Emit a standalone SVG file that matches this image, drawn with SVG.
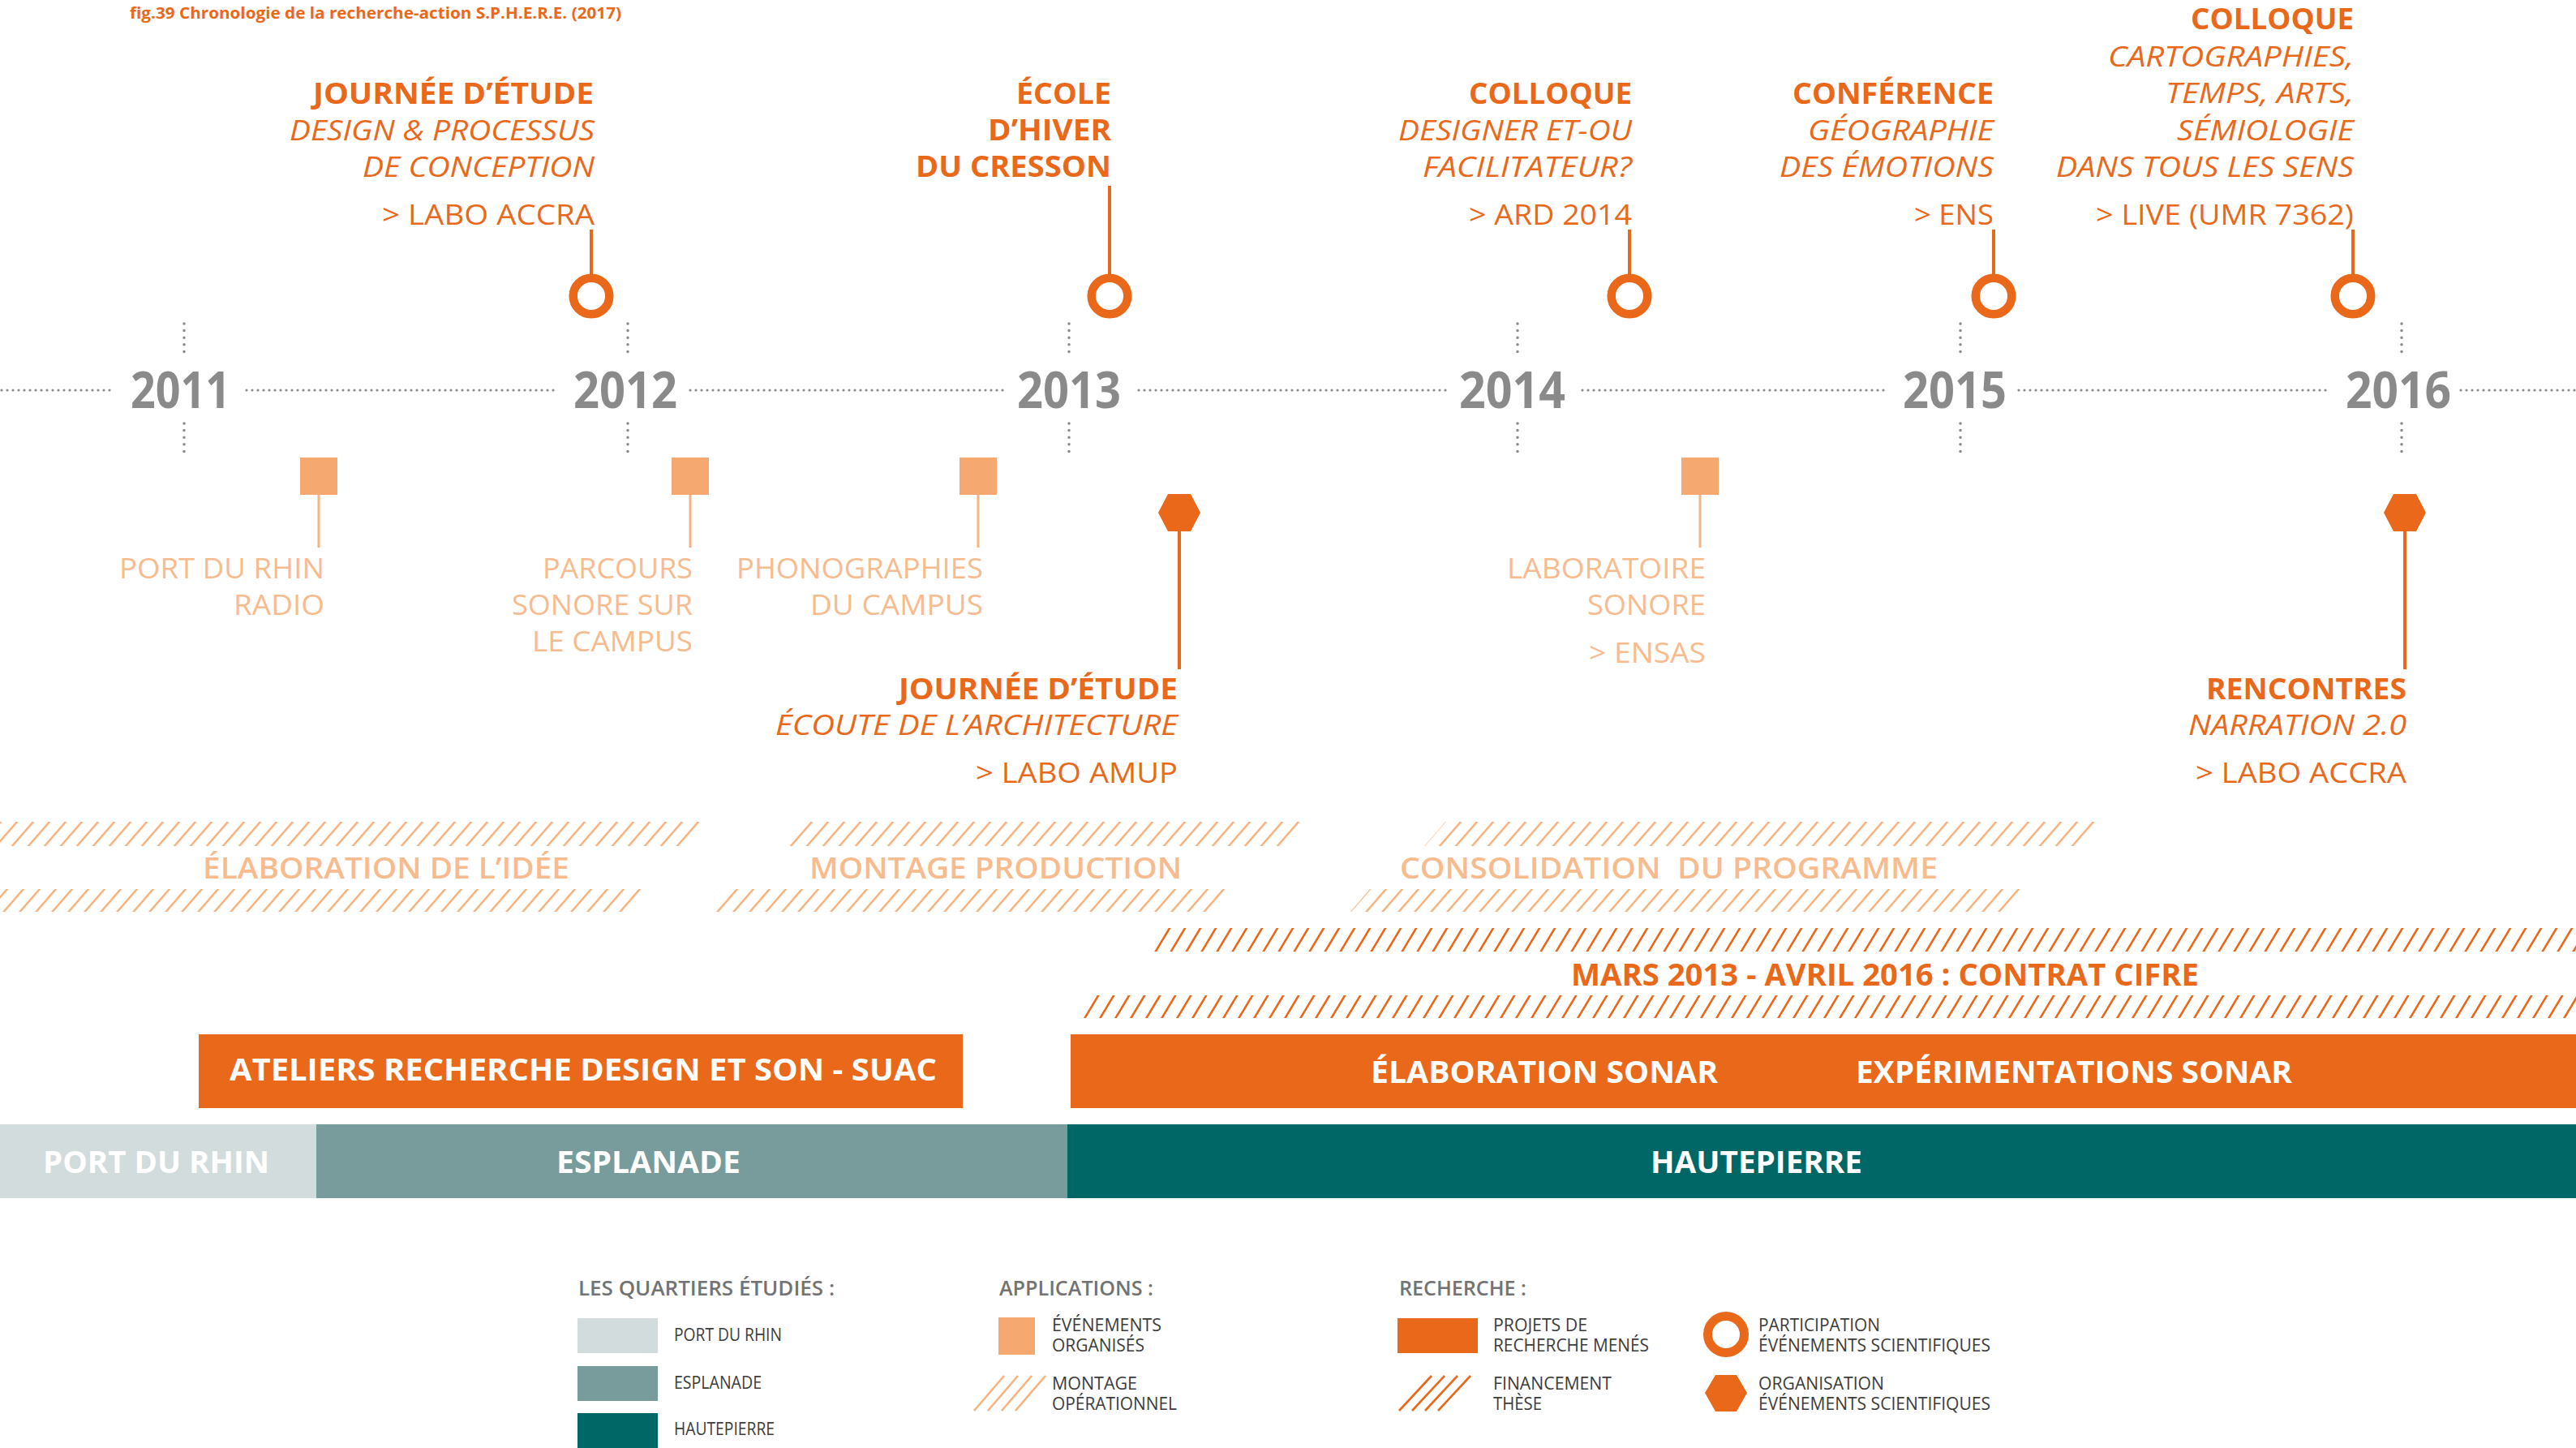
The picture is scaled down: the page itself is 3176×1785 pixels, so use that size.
<svg xmlns="http://www.w3.org/2000/svg" width="3176" height="1785" viewBox="0 0 3176 1785">
<style>
text{font-family:"Open Sans","Noto Sans","Liberation Sans",sans-serif;}
.t{font-size:35px;fill:#E9681A;}
.b{font-weight:700;}
.i{font-style:italic;}
.app{font-size:35px;fill:#F8BB8E;}
.band{font-size:36px;font-weight:600;fill:#F8BB8E;}
.yr{font-size:63px;font-weight:700;fill:#8A8A8A;}
.bar{font-size:38px;font-weight:700;fill:#FFFFFF;}
.lh{font-size:26px;font-weight:600;fill:#737373;}
.ll{font-size:21px;fill:#3C3C3C;}
.ring{fill:none;stroke:#E9681A;stroke-width:10.5;}
.hex{fill:#E9681A;}
.sq{fill:#F5A970;}
.cn{stroke:#E9681A;stroke-width:4;fill:none;}
.cl{stroke:#F6B485;stroke-width:3;fill:none;}
.dh{stroke:#8A8A8A;stroke-width:3.2;stroke-linecap:round;stroke-dasharray:0 7;fill:none;}
.dv{stroke:#8A8A8A;stroke-width:3.5;stroke-linecap:round;stroke-dasharray:0 8.6;fill:none;}
</style>
<defs>
<pattern id="hatchL" patternUnits="userSpaceOnUse" width="20" height="40" patternTransform="skewX(-41)">
<rect x="0" y="0" width="3.3" height="40" fill="#F7B27E"/>
</pattern>
<pattern id="hatchD" patternUnits="userSpaceOnUse" width="19" height="40" patternTransform="skewX(-31)">
<rect x="0" y="0" width="3" height="40" fill="#E9681A"/>
</pattern>
</defs>
<rect width="3176" height="1785" fill="#FFFFFF"/>

<text x="160" y="23" font-size="20" font-weight="700" fill="#E9681A" textLength="606" lengthAdjust="spacingAndGlyphs">fig.39 Chronologie de la recherche-action S.P.H.E.R.E. (2017)</text>

<g id="timeline">
<path class="dh" d="M2 481H138M304 481H684M851 481H1238M1404 481H1784M1951 481H2323M2489 481H2868M3034 481H3176"/>
<path class="dv" d="M227 399V442M227 522V564M774 399V442M774 522V564M1318 399V442M1318 522V564M1871 399V442M1871 522V564M2417 399V442M2417 522V564M2961 399V442M2961 522V564"/>
<text class="yr" x="161" y="503" textLength="123" lengthAdjust="spacingAndGlyphs">2011</text>
<text class="yr" x="707" y="503" textLength="128" lengthAdjust="spacingAndGlyphs">2012</text>
<text class="yr" x="1254" y="503" textLength="128" lengthAdjust="spacingAndGlyphs">2013</text>
<text class="yr" x="1799" y="503" textLength="131" lengthAdjust="spacingAndGlyphs">2014</text>
<text class="yr" x="2346" y="503" textLength="128" lengthAdjust="spacingAndGlyphs">2015</text>
<text class="yr" x="2892" y="503" textLength="130" lengthAdjust="spacingAndGlyphs">2016</text>
</g>

<g id="connectors">
<path class="cn" d="M729 283V340M1368 229V340M2009 283V340M2458 283V340M2901 283V340"/>
<path class="cn" d="M1454 650V825M2965 650V825" stroke-width="3.5"/>
<path class="cl" d="M393 608V675M851 608V675M1206 608V675M2096 608V675"/>
</g>

<g id="evt-journee-2012">
<text class="t b" x="386" y="128" textLength="346" lengthAdjust="spacingAndGlyphs">JOURNÉE D’ÉTUDE</text>
<text class="t i" x="357" y="173" textLength="376" lengthAdjust="spacingAndGlyphs">DESIGN &amp; PROCESSUS</text>
<text class="t i" x="447" y="218" textLength="286" lengthAdjust="spacingAndGlyphs">DE CONCEPTION</text>
<text class="t" x="471" y="277" textLength="262" lengthAdjust="spacingAndGlyphs">&gt; LABO ACCRA</text>
<circle class="ring" cx="729" cy="365" r="22.3"/>
</g>

<g id="evt-cresson-2013">
<text class="t b" x="1253" y="128" textLength="117" lengthAdjust="spacingAndGlyphs">ÉCOLE</text>
<text class="t b" x="1218" y="173" textLength="152" lengthAdjust="spacingAndGlyphs">D’HIVER</text>
<text class="t b" x="1129" y="218" textLength="241" lengthAdjust="spacingAndGlyphs">DU CRESSON</text>
<circle class="ring" cx="1368" cy="365" r="22.3"/>
</g>

<g id="evt-colloque-2014">
<text class="t b" x="1811" y="128" textLength="201" lengthAdjust="spacingAndGlyphs">COLLOQUE</text>
<text class="t i" x="1724" y="173" textLength="288" lengthAdjust="spacingAndGlyphs">DESIGNER ET-OU</text>
<text class="t i" x="1754" y="218" textLength="258" lengthAdjust="spacingAndGlyphs">FACILITATEUR?</text>
<text class="t" x="1811" y="277" textLength="201" lengthAdjust="spacingAndGlyphs">&gt; ARD 2014</text>
<circle class="ring" cx="2009" cy="365" r="22.3"/>
</g>

<g id="evt-conference-2015">
<text class="t b" x="2210" y="128" textLength="248" lengthAdjust="spacingAndGlyphs">CONFÉRENCE</text>
<text class="t i" x="2229" y="173" textLength="229" lengthAdjust="spacingAndGlyphs">GÉOGRAPHIE</text>
<text class="t i" x="2194" y="218" textLength="264" lengthAdjust="spacingAndGlyphs">DES ÉMOTIONS</text>
<text class="t" x="2360" y="277" textLength="98" lengthAdjust="spacingAndGlyphs">&gt; ENS</text>
<circle class="ring" cx="2458" cy="365" r="22.3"/>
</g>

<g id="evt-colloque-2016">
<text class="t b" x="2701" y="36" textLength="201" lengthAdjust="spacingAndGlyphs">COLLOQUE</text>
<text class="t i" x="2599" y="82" textLength="303" lengthAdjust="spacingAndGlyphs">CARTOGRAPHIES,</text>
<text class="t i" x="2670" y="127" textLength="232" lengthAdjust="spacingAndGlyphs">TEMPS, ARTS,</text>
<text class="t i" x="2684" y="173" textLength="218" lengthAdjust="spacingAndGlyphs">SÉMIOLOGIE</text>
<text class="t i" x="2535" y="218" textLength="367" lengthAdjust="spacingAndGlyphs">DANS TOUS LES SENS</text>
<text class="t" x="2584" y="277" textLength="318" lengthAdjust="spacingAndGlyphs">&gt; LIVE (UMR 7362)</text>
<circle class="ring" cx="2901" cy="365" r="22.3"/>
</g>

<g id="app-port-du-rhin">
<rect class="sq" x="370" y="564" width="46" height="46"/>
<text class="app" x="147" y="713" textLength="253" lengthAdjust="spacingAndGlyphs">PORT DU RHIN</text>
<text class="app" x="288" y="758" textLength="112" lengthAdjust="spacingAndGlyphs">RADIO</text>
</g>

<g id="app-parcours">
<rect class="sq" x="828" y="564" width="46" height="46"/>
<text class="app" x="669" y="713" textLength="185" lengthAdjust="spacingAndGlyphs">PARCOURS</text>
<text class="app" x="631" y="758" textLength="223" lengthAdjust="spacingAndGlyphs">SONORE SUR</text>
<text class="app" x="656" y="803" textLength="198" lengthAdjust="spacingAndGlyphs">LE CAMPUS</text>
</g>

<g id="app-phonographies">
<rect class="sq" x="1183" y="564" width="46" height="46"/>
<text class="app" x="908" y="713" textLength="304" lengthAdjust="spacingAndGlyphs">PHONOGRAPHIES</text>
<text class="app" x="999" y="758" textLength="213" lengthAdjust="spacingAndGlyphs">DU CAMPUS</text>
</g>

<g id="app-laboratoire">
<rect class="sq" x="2073" y="564" width="46" height="46"/>
<text class="app" x="1858" y="713" textLength="245" lengthAdjust="spacingAndGlyphs">LABORATOIRE</text>
<text class="app" x="1957" y="758" textLength="146" lengthAdjust="spacingAndGlyphs">SONORE</text>
<text class="app" x="1959" y="817" textLength="144" lengthAdjust="spacingAndGlyphs">&gt; ENSAS</text>
</g>

<g id="org-journee-2013">
<polygon class="hex" points="1428,632 1440,609 1468,609 1480,632 1468,655 1440,655"/>
<text class="t b" x="1108" y="862" textLength="344" lengthAdjust="spacingAndGlyphs">JOURNÉE D’ÉTUDE</text>
<text class="t i" x="956" y="906" textLength="496" lengthAdjust="spacingAndGlyphs">ÉCOUTE DE L’ARCHITECTURE</text>
<text class="t" x="1203" y="965" textLength="249" lengthAdjust="spacingAndGlyphs">&gt; LABO AMUP</text>
</g>

<g id="org-rencontres-2016">
<polygon class="hex" points="2939,632 2951,609 2979,609 2991,632 2979,655 2951,655"/>
<text class="t b" x="2720" y="862" textLength="247" lengthAdjust="spacingAndGlyphs">RENCONTRES</text>
<text class="t i" x="2698" y="906" textLength="269" lengthAdjust="spacingAndGlyphs">NARRATION 2.0</text>
<text class="t" x="2707" y="965" textLength="260" lengthAdjust="spacingAndGlyphs">&gt; LABO ACCRA</text>
</g>

<g id="band-elaboration-idee">
<polygon fill="url(#hatchL)" points="0,1013 876,1013 850,1043 0,1043"/>
<polygon fill="url(#hatchL)" points="0,1096 801,1096 777,1124 0,1124"/>
<text class="band" x="250" y="1083" textLength="452" lengthAdjust="spacingAndGlyphs">ÉLABORATION DE L’IDÉE</text>
</g>

<g id="band-montage-production">
<polygon fill="url(#hatchL)" points="985,1013 1616,1013 1590,1043 959,1043"/>
<polygon fill="url(#hatchL)" points="891,1096 1522,1096 1498,1124 867,1124"/>
<text class="band" x="998" y="1083" textLength="459" lengthAdjust="spacingAndGlyphs">MONTAGE PRODUCTION</text>
</g>

<g id="band-consolidation">
<polygon fill="url(#hatchL)" points="1782,1013 2588,1013 2562,1043 1756,1043"/>
<polygon fill="url(#hatchL)" points="1689,1096 2494,1096 2470,1124 1665,1124"/>
<text class="band" x="1726" y="1083" textLength="663" lengthAdjust="spacingAndGlyphs" xml:space="preserve">CONSOLIDATION  DU PROGRAMME</text>
</g>

<g id="band-contrat-cifre">
<polygon fill="url(#hatchD)" points="1430,1144 3176,1144 3176,1173 1413,1173"/>
<polygon fill="url(#hatchD)" points="1338,1227 3176,1227 3176,1255 1321,1255"/>
<text class="t b" x="1937" y="1215" textLength="774" lengthAdjust="spacingAndGlyphs" style="font-size:38px">MARS 2013 - AVRIL 2016 : CONTRAT CIFRE</text>
</g>

<g id="bar-ateliers">
<rect x="245" y="1275" width="942" height="91" fill="#E9681A"/>
<text class="bar" x="283" y="1332" textLength="872" lengthAdjust="spacingAndGlyphs">ATELIERS RECHERCHE DESIGN ET SON - SUAC</text>
</g>

<g id="bar-sonar">
<rect x="1320" y="1275" width="1856" height="91" fill="#E9681A"/>
<text class="bar" x="1690" y="1335" textLength="428" lengthAdjust="spacingAndGlyphs">ÉLABORATION SONAR</text>
<text class="bar" x="2288" y="1335" textLength="538" lengthAdjust="spacingAndGlyphs">EXPÉRIMENTATIONS SONAR</text>
</g>

<g id="quartier-port-du-rhin">
<rect x="0" y="1386" width="390" height="91" fill="#D3DCDC"/>
<text class="bar" x="53" y="1446" textLength="279" lengthAdjust="spacingAndGlyphs">PORT DU RHIN</text>
</g>
<g id="quartier-esplanade">
<rect x="390" y="1386" width="926" height="91" fill="#789C9B"/>
<text class="bar" x="686" y="1446" textLength="227" lengthAdjust="spacingAndGlyphs">ESPLANADE</text>
</g>
<g id="quartier-hautepierre">
<rect x="1316" y="1386" width="1860" height="91" fill="#006767"/>
<text class="bar" x="2035" y="1446" textLength="261" lengthAdjust="spacingAndGlyphs">HAUTEPIERRE</text>
</g>

<g id="legend-quartiers">
<text class="lh" x="713" y="1597" textLength="316" lengthAdjust="spacingAndGlyphs">LES QUARTIERS ÉTUDIÉS :</text>
<rect x="712" y="1625" width="99" height="43" fill="#D3DCDC"/>
<text class="ll" x="831" y="1653" textLength="133" lengthAdjust="spacingAndGlyphs">PORT DU RHIN</text>
<rect x="712" y="1684" width="99" height="43" fill="#789C9B"/>
<text class="ll" x="831" y="1712" textLength="108" lengthAdjust="spacingAndGlyphs">ESPLANADE</text>
<rect x="712" y="1742" width="99" height="43" fill="#006767"/>
<text class="ll" x="831" y="1769" textLength="124" lengthAdjust="spacingAndGlyphs">HAUTEPIERRE</text>
</g>

<g id="legend-applications">
<text class="lh" x="1232" y="1597" textLength="190" lengthAdjust="spacingAndGlyphs">APPLICATIONS :</text>
<rect class="sq" x="1231" y="1624" width="45" height="46"/>
<text class="ll" x="1297" y="1641" textLength="135" lengthAdjust="spacingAndGlyphs">ÉVÉNEMENTS</text>
<text class="ll" x="1297" y="1666" textLength="114" lengthAdjust="spacingAndGlyphs">ORGANISÉS</text>
<path d="M1201 1739L1238 1696M1218 1739L1255 1696M1235 1739L1272 1696M1252 1739L1289 1696" stroke="#F7B27E" stroke-width="2.6" fill="none"/>
<text class="ll" x="1297" y="1713" textLength="105" lengthAdjust="spacingAndGlyphs">MONTAGE</text>
<text class="ll" x="1297" y="1738" textLength="154" lengthAdjust="spacingAndGlyphs">OPÉRATIONNEL</text>
</g>

<g id="legend-recherche">
<text class="lh" x="1725" y="1597" textLength="157" lengthAdjust="spacingAndGlyphs">RECHERCHE :</text>
<rect x="1723" y="1625" width="99" height="43" fill="#E9681A"/>
<text class="ll" x="1841" y="1641" textLength="116" lengthAdjust="spacingAndGlyphs">PROJETS DE</text>
<text class="ll" x="1841" y="1666" textLength="192" lengthAdjust="spacingAndGlyphs">RECHERCHE MENÉS</text>
<path d="M1725 1739L1765 1696M1741 1739L1781 1696M1757 1739L1797 1696M1773 1739L1813 1696" stroke="#E9681A" stroke-width="2.6" fill="none"/>
<text class="ll" x="1841" y="1713" textLength="146" lengthAdjust="spacingAndGlyphs">FINANCEMENT</text>
<text class="ll" x="1841" y="1738" textLength="60" lengthAdjust="spacingAndGlyphs">THÈSE</text>
<circle class="ring" cx="2128" cy="1645" r="22.5" style="stroke-width:11"/>
<text class="ll" x="2168" y="1641" textLength="150" lengthAdjust="spacingAndGlyphs">PARTICIPATION</text>
<text class="ll" x="2168" y="1666" textLength="286" lengthAdjust="spacingAndGlyphs">ÉVÉNEMENTS SCIENTIFIQUES</text>
<polygon class="hex" points="2102,1717 2115,1695 2141,1695 2154,1717 2141,1740 2115,1740"/>
<text class="ll" x="2168" y="1713" textLength="155" lengthAdjust="spacingAndGlyphs">ORGANISATION</text>
<text class="ll" x="2168" y="1738" textLength="286" lengthAdjust="spacingAndGlyphs">ÉVÉNEMENTS SCIENTIFIQUES</text>
</g>
</svg>
